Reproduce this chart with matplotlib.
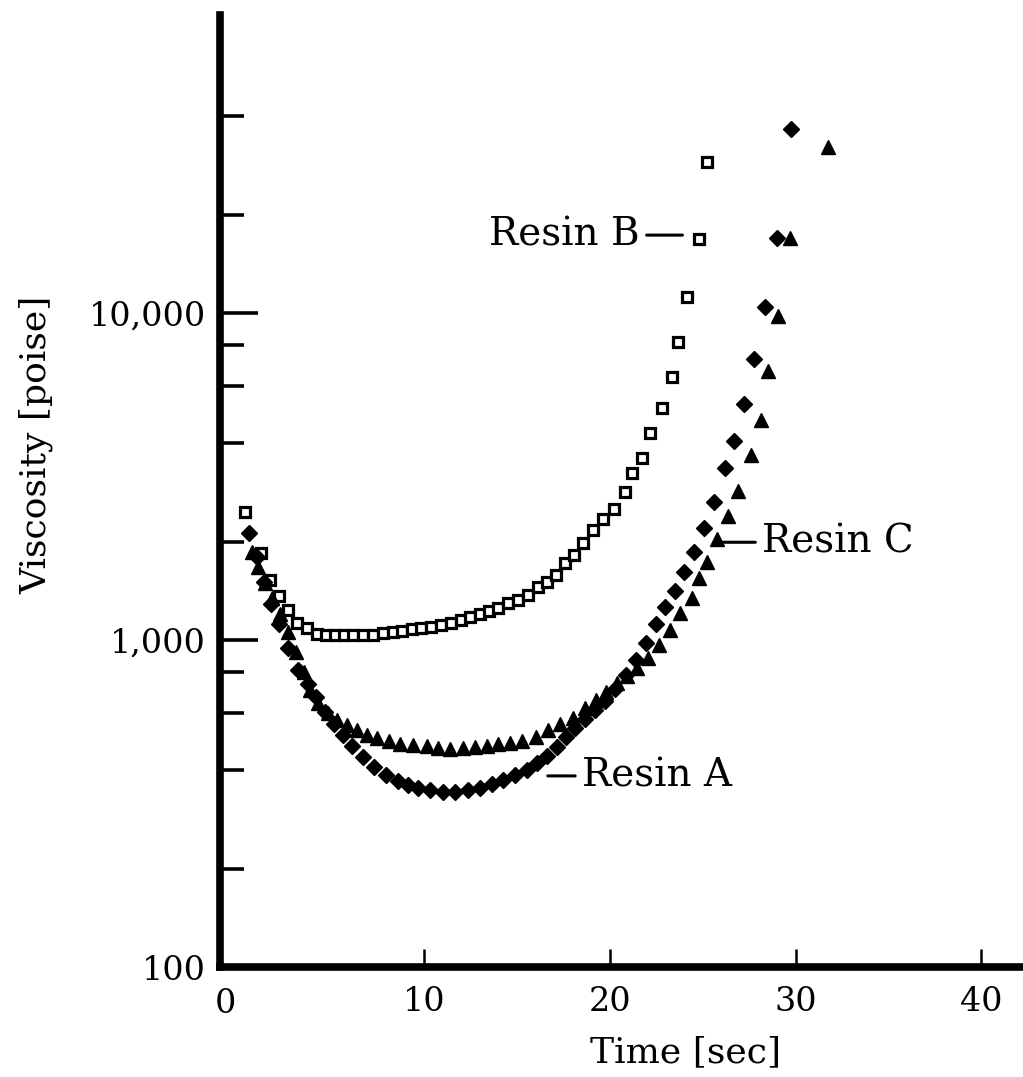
import numpy as np
import matplotlib.pyplot as plt
from matplotlib.ticker import FixedLocator, FixedFormatter, NullFormatter

plt.rcParams['font.family'] = 'DejaVu Serif'

# Resin A (filled diamonds)
time_a = [0.54, 0.97, 1.35, 1.72, 2.16, 2.64, 3.18, 3.72, 4.15, 4.63,
          5.12, 5.60, 6.09, 6.68, 7.27, 7.92, 8.57, 9.11, 9.64, 10.29,
          10.99, 11.64, 12.34, 12.98, 13.63, 14.22, 14.87, 15.52, 16.06, 16.59,
          17.13, 17.62, 18.10, 18.64, 19.18, 19.72, 20.26, 20.85, 21.39, 21.93,
          22.47, 22.95, 23.49, 23.98, 24.52, 25.05, 25.59, 26.19, 26.67, 27.21,
          27.75, 28.34, 28.99, 29.74]
visc_a = [2120, 1795, 1504, 1288, 1119, 945, 809, 733, 669, 602,
          553, 512, 474, 439, 409, 387, 371, 360, 353, 348,
          343, 343, 348, 353, 363, 373, 387, 400, 421, 442,
          471, 505, 538, 573, 611, 651, 708, 782, 869, 979,
          1119, 1262, 1413, 1614, 1858, 2200, 2642, 3357, 4061, 5268,
          7234, 10430, 16960, 36530]

# Resin B (open squares)
time_b = [0.32, 1.21, 1.67, 2.16, 2.64, 3.13, 3.66, 4.20, 4.69, 5.17,
          5.66, 6.14, 6.68, 7.22, 7.76, 8.30, 8.78, 9.32, 9.81, 10.34,
          10.88, 11.42, 11.96, 12.45, 12.98, 13.47, 13.95, 14.49, 15.03, 15.57,
          16.11, 16.59, 17.08, 17.56, 18.05, 18.53, 19.07, 19.61, 20.20, 20.80,
          21.17, 21.71, 22.14, 22.79, 23.33, 23.65, 24.14, 24.78, 25.22]
visc_b = [2470, 1845, 1525, 1363, 1235, 1127, 1088, 1043, 1036, 1036,
          1036, 1036, 1036, 1036, 1052, 1060, 1068, 1079, 1086, 1099,
          1111, 1130, 1151, 1173, 1201, 1230, 1250, 1295, 1326, 1373,
          1452, 1504, 1581, 1716, 1820, 1976, 2170, 2344, 2515, 2836,
          3230, 3614, 4295, 5122, 6359, 8170, 11220, 16800, 29020]

# Resin C (filled triangles)
time_c = [0.70, 1.02, 1.40, 1.78, 2.21, 2.64, 3.07, 3.50, 3.83, 4.26,
          4.80, 5.28, 5.82, 6.36, 6.90, 7.44, 8.08, 8.67, 9.38, 10.13,
          10.72, 11.37, 12.07, 12.72, 13.36, 13.95, 14.60, 15.25, 16.00, 16.65,
          17.30, 18.00, 18.64, 19.23, 19.77, 20.37, 20.91, 21.44, 22.04, 22.63,
          23.22, 23.76, 24.41, 24.78, 25.22, 25.75, 26.35, 26.89, 27.59, 28.12,
          28.50, 29.04, 29.69, 31.73]
visc_c = [1858, 1672, 1494, 1344, 1201, 1058, 919, 798, 703, 642,
          598, 569, 550, 531, 512, 501, 491, 481, 477, 474,
          467, 464, 467, 471, 474, 481, 484, 491, 505, 531,
          553, 577, 620, 656, 693, 739, 776, 821, 881, 965,
          1073, 1209, 1344, 1548, 1732, 2036, 2395, 2856, 3679, 4708,
          6646, 9790, 16960, 32180]

y_major = [100, 1000, 10000]
y_major_labels = ['100', '1,000', '10,000']
y_minor = [200, 400, 600, 800, 2000, 4000, 6000, 8000, 20000, 40000]
x_ticks = [10, 20, 30, 40]

fig = plt.figure(figsize=(10.23, 10.77), dpi=100)
ax = fig.add_axes([220 / 1023, 1 - 967 / 1077, 803 / 1023, 952 / 1077])

ax.plot(time_b, visc_b, 's', ms=7.5, mfc='white', mec='black', mew=2.3, ls='none')
ax.plot(time_c, visc_c, '^', ms=9.5, color='black', ls='none')
ax.plot(time_a, visc_a, 'D', ms=8.5, color='black', ls='none')

ax.set_yscale('log')
ax.set_xlim(-1.0, 42.24)
ax.set_ylim(100, 81500)

ax.yaxis.set_major_locator(FixedLocator(y_major))
ax.yaxis.set_major_formatter(FixedFormatter(y_major_labels))
ax.yaxis.set_minor_locator(FixedLocator(y_minor))
ax.yaxis.set_minor_formatter(NullFormatter())
ax.set_xticks(x_ticks)
ax.set_xticklabels([str(t) for t in x_ticks])

for side in ['top', 'right']:
    ax.spines[side].set_visible(False)
for side in ['left', 'bottom']:
    ax.spines[side].set_linewidth(5.5)

ax.tick_params(axis='y', which='major', direction='in', length=27, width=2.6,
               labelsize=24, pad=10)
ax.tick_params(axis='y', which='minor', direction='in', length=17, width=2.6)
ax.tick_params(axis='x', direction='in', length=13, width=1.8, labelsize=24, pad=14)

# the zero sits tucked in at the corner
ax.text(-0.7, -0.022, '0', transform=ax.get_xaxis_transform(), ha='center',
        va='top', fontsize=24)

ax.set_xlabel('Time [sec]', fontsize=26)
ax.xaxis.set_label_coords(0.58, -0.072)
ax.set_ylabel('Viscosity [poise]', fontsize=26)
ax.yaxis.set_label_coords(-0.207, 0.548)

line_kw = dict(arrowstyle='-', lw=2.2, color='black', shrinkA=3, shrinkB=0)
ax.annotate('Resin B', xy=(23.9, 17300), xytext=(21.6, 17300), ha='right',
            va='center', fontsize=28, arrowprops=line_kw)
ax.annotate('Resin C', xy=(26.0, 1990), xytext=(28.2, 1990), ha='left',
            va='center', fontsize=28, arrowprops=line_kw)
ax.annotate('Resin A', xy=(16.65, 384), xytext=(18.5, 384), ha='left',
            va='center', fontsize=28, arrowprops=line_kw)

fig.savefig('out.png', dpi=100)
